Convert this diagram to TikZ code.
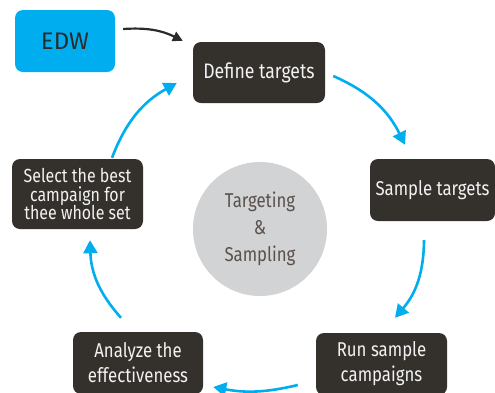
\documentclass[tikz,border=0pt]{standalone}
\usepackage{fontspec}
\setmainfont[FakeStretch=0.84]{Fira Sans}
\newfontfamily\edwfont{Fira Sans}
\usepackage{xcolor}
\definecolor{CycBlue} {HTML}{00AEEF}
\definecolor{CycDark} {HTML}{34302B}
\definecolor{CycText} {HTML}{F2F2F2}
\definecolor{CycGray} {HTML}{D1D3D4}
\definecolor{CycBrown}{HTML}{5B514C}
\definecolor{CycInk}  {HTML}{2B2B2B}
\usetikzlibrary{arrows.meta,positioning}
\tikzset{
  stagebox/.style={draw=none,fill=CycDark,rounded corners=8pt,
    text=CycText,align=center,inner sep=0pt,font=\fontsize{20}{25}\selectfont},
  cyclearrow/.style={CycBlue,line width=2.6pt,
    -{Triangle[length=13pt,width=14pt]}},
}

\begin{document}
\begin{tikzpicture}[x=1pt,y=-1pt]
  \useasboundingbox (0,0) rectangle (495,392);
  \node[draw=none,fill=CycBlue,rounded corners=8pt,
    minimum width=100pt,minimum height=62pt,text=CycInk,
    font=\edwfont\fontsize{24}{24}\selectfont]
    (edw) at (65,41) {EDW};
  \node[stagebox,minimum width=132pt,minimum height=61pt,
    font=\fontsize{21}{25}\selectfont]
    (define) at (259,72.5) {Define targets};
  \node[stagebox,minimum width=125pt,minimum height=62pt]
    (sample) at (432.5,190) {Sample targets};
  \node[stagebox,minimum width=131pt,minimum height=62pt]
    (run) at (381.5,364) {Run sample\\campaigns};
  \node[stagebox,minimum width=130pt,minimum height=62pt]
    (analyze) at (138,363) {Analyze the\\effectiveness};
  \node[stagebox,minimum width=131pt,minimum height=70pt,
    font=\fontsize{19}{18.5}\selectfont]
    (select) at (77.5,194) {Select the best\\campaign for\\thee whole set};
  \node[circle,fill=CycGray,minimum size=134pt,inner sep=0pt,
    text=CycBrown,align=center,font=\fontsize{20}{27}\selectfont]
    (core) at (260,229) {Targeting\\\&\\Sampling};
  \draw[CycInk,line width=2.2pt,-{Triangle[length=10pt,width=10pt]}]
    ([xshift=8pt,yshift=12pt]edw.east) to[bend left=15]
    ([xshift=-10pt,yshift=1pt]define.north west);
  \draw[cyclearrow] ([xshift=8pt,yshift=-3.5pt]define.east) to[bend left=20]
    ([xshift=-27.5pt,yshift=14pt]sample.north);
  \draw[cyclearrow] ([xshift=-8.5pt,yshift=-19pt]sample.south) to[bend left=20]
    ([xshift=13.5pt,yshift=15pt]run.north);
  \draw[cyclearrow] ([xshift=-18pt,yshift=-21pt]run.west) to[bend left=12]
    ([xshift=10pt,yshift=-24pt]analyze.east);
  \draw[cyclearrow] ([xshift=-17pt,yshift=14pt]analyze.north) to[bend left=20]
    ([xshift=12.5pt,yshift=-11pt]select.south);
  \draw[cyclearrow] ([xshift=34.5pt,yshift=1pt]select.north) to[bend left=20]
    ([xshift=-16pt,yshift=-10.5pt]define.west);
\end{tikzpicture}
\end{document}
